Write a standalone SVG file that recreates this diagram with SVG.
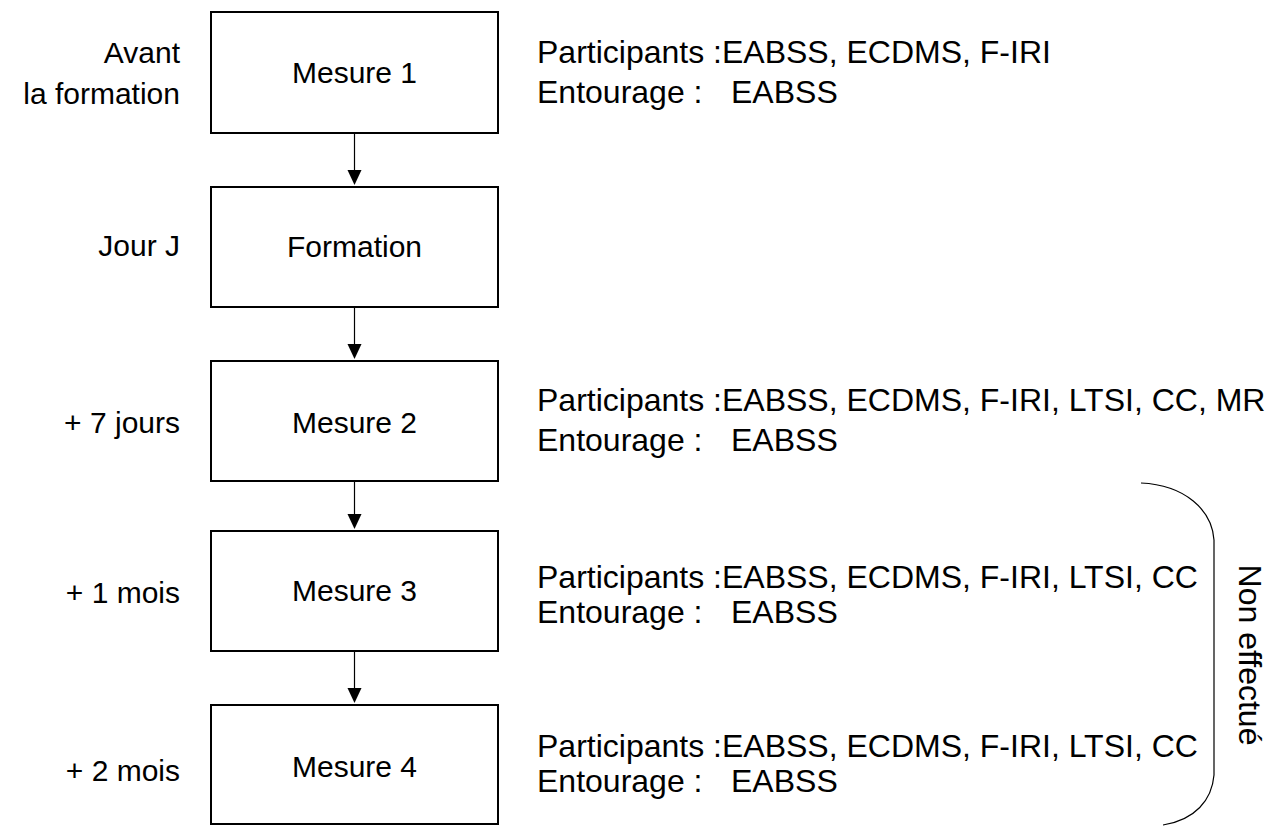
<svg xmlns="http://www.w3.org/2000/svg" width="1285" height="826" viewBox="0 0 1285 826">
<style>
text{font-family:"Liberation Sans",Arial,sans-serif;font-size:30px;fill:#000}
.t{font-size:32px}
.box{fill:#fff;stroke:#000;stroke-width:2}
.c{text-anchor:middle}
.r{text-anchor:end}
.ln{stroke:#000;stroke-width:1.2;fill:none}
</style>
<rect width="1285" height="826" fill="#fff"/>
<g id="connectors">
<path class="ln" d="M354.5,133 V171"/><path d="M347.5,170 H361.5 L354.5,185 Z"/>
<path class="ln" d="M354.5,307 V345"/><path d="M347.5,344 H361.5 L354.5,359 Z"/>
<path class="ln" d="M354.5,481 V515"/><path d="M347.5,514 H361.5 L354.5,529 Z"/>
<path class="ln" d="M354.5,651 V689"/><path d="M347.5,688 H361.5 L354.5,703 Z"/>
</g>
<g id="mesure1">
<rect class="box" x="211" y="12" width="287" height="121"/>
<text class="c" x="354.5" y="83">Mesure 1</text>
<text class="r" x="180" y="63">Avant</text>
<text class="r" x="180" y="104">la formation</text>
<text class="t" x="537" y="63">Participants :EABSS, ECDMS, F-IRI</text>
<text class="t" x="537" y="103">Entourage :</text><text class="t" x="731" y="103">EABSS</text>
</g>
<g id="formation">
<rect class="box" x="211" y="187" width="287" height="120"/>
<text class="c" x="354.5" y="257">Formation</text>
<text class="r" x="180" y="256">Jour J</text>
</g>
<g id="mesure2">
<rect class="box" x="211" y="361" width="287" height="120"/>
<text class="c" x="354.5" y="433">Mesure 2</text>
<text class="r" x="180" y="433">+ 7 jours</text>
<text class="t" x="537" y="411">Participants :EABSS, ECDMS, F-IRI, LTSI, CC, MR</text>
<text class="t" x="537" y="451">Entourage :</text><text class="t" x="731" y="451">EABSS</text>
</g>
<g id="mesure3">
<rect class="box" x="211" y="531" width="287" height="120"/>
<text class="c" x="354.5" y="601">Mesure 3</text>
<text class="r" x="180" y="603">+ 1 mois</text>
<text class="t" x="537" y="588">Participants :EABSS, ECDMS, F-IRI, LTSI, CC</text>
<text class="t" x="537" y="623">Entourage :</text><text class="t" x="731" y="623">EABSS</text>
</g>
<g id="mesure4">
<rect class="box" x="211" y="705" width="287" height="119"/>
<text class="c" x="354.5" y="777">Mesure 4</text>
<text class="r" x="180" y="781">+ 2 mois</text>
<text class="t" x="537" y="757">Participants :EABSS, ECDMS, F-IRI, LTSI, CC</text>
<text class="t" x="537" y="792">Entourage :</text><text class="t" x="731" y="792">EABSS</text>
</g>
<g id="brace">
<path class="ln" d="M1141,483 C1185,485 1212,510 1214,540 V775 C1212,800 1195,820 1163,825"/>
<text class="t c" transform="translate(1239,655) rotate(90)">Non effectué</text>
</g>
</svg>
